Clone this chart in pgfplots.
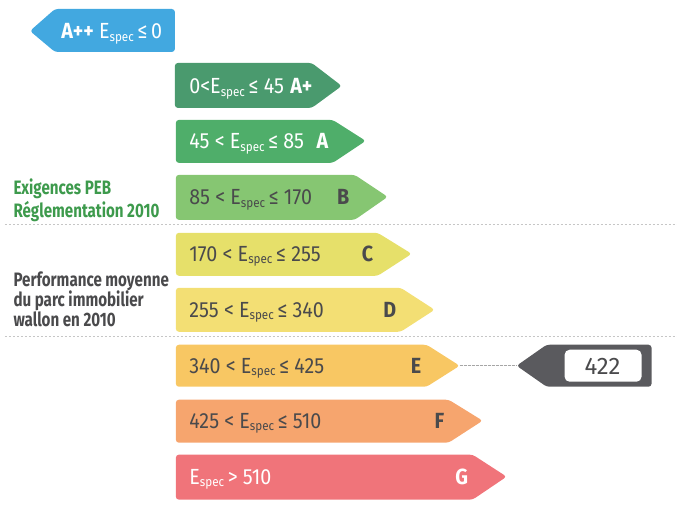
\documentclass[border=0pt]{standalone}
\usepackage{fontspec}
\setmainfont{Fira Sans}[FakeStretch=0.78]
\newfontfamily\barfont{Fira Sans}[FakeStretch=0.9]
\newfontfamily\numfont{Fira Sans}
\usepackage{pgfplots}
\pgfplotsset{compat=1.18}
\definecolor{cApp}{HTML}{42A8E0}
\definecolor{cAp}{HTML}{4A9A6E}
\definecolor{cA}{HTML}{4FAE6A}
\definecolor{cB}{HTML}{86C672}
\definecolor{cC}{HTML}{E6E06A}
\definecolor{cD}{HTML}{F3DF74}
\definecolor{cE}{HTML}{F8C763}
\definecolor{cF}{HTML}{F6A56E}
\definecolor{cG}{HTML}{F0747A}
\definecolor{cMark}{HTML}{5A5A5E}
\definecolor{txt}{HTML}{4A4A4C}
\definecolor{grn}{HTML}{3D9A4C}
\newcommand\Es{E\raisebox{-0.1em}{\fontsize{13}{13}\selectfont spec}}
\tikzset{bt/.style={anchor=base west,font=\barfont\fontsize{22}{22}\selectfont},
  bl/.style={anchor=base east,font=\barfont\bfseries\fontsize{22}{22}\selectfont},
  lt/.style={anchor=base west,font=\bfseries\fontsize{19.5}{19.5}\selectfont}}
\begin{document}
\begin{tikzpicture}
\begin{axis}[width=677bp,height=505bp,scale only axis,
  xmin=0,xmax=677,ymin=0,ymax=505,y dir=reverse,
  axis lines=none,clip=false,no markers,
  every node/.style={inner sep=0pt,outer sep=0pt}]
\addplot[draw=none] coordinates {(0,0) (677,505)};
% separators
\addplot[gray!45,line width=1bp,dash pattern=on 2bp off 2bp] coordinates {(5,225) (677,225)};
\addplot[gray!45,line width=1bp,dash pattern=on 2bp off 2bp] coordinates {(5,337) (677,337)};
% arrows
\addplot[fill=cApp,draw=none,rounded corners=3bp] coordinates {(55,9) (175,9) (175,52) (55,52) (30,31)} -- cycle;
\addplot[fill=cAp,draw=none,rounded corners=3bp] coordinates {(175,63) (312,63) (342,86) (312,108) (175,108)} -- cycle;
\addplot[fill=cA,draw=none,rounded corners=3bp] coordinates {(176,120) (333,120) (366,141) (333,163) (176,163)} -- cycle;
\addplot[fill=cB,draw=none,rounded corners=3bp] coordinates {(176,175) (355,175) (388,197) (355,220) (176,220)} -- cycle;
\addplot[fill=cC,draw=none,rounded corners=3bp] coordinates {(176,233) (378,233) (412,254) (378,276) (176,276)} -- cycle;
\addplot[fill=cD,draw=none,rounded corners=3bp] coordinates {(176,288) (401,288) (435,310) (401,332) (176,332)} -- cycle;
\addplot[fill=cE,draw=none,rounded corners=3bp] coordinates {(176,345) (427,345) (460,366) (427,387) (176,387)} -- cycle;
\addplot[fill=cF,draw=none,rounded corners=3bp] coordinates {(176,400) (449,400) (483,421) (449,443) (176,443)} -- cycle;
\addplot[fill=cG,draw=none,rounded corners=3bp] coordinates {(176,455) (473,455) (507,477) (473,500) (176,500)} -- cycle;
% marker
\addplot[gray!70,line width=0.8bp,dash pattern=on 3bp off 1bp] coordinates {(460,366) (517,366)};
\addplot[fill=cMark,draw=none,rounded corners=3bp] coordinates {(517,366) (547,345) (652,345) (652,387) (547,387)} -- cycle;
\addplot[fill=white,draw=none,rounded corners=5bp] coordinates {(565,350) (642,350) (642,382) (565,382)} -- cycle;
\node[anchor=base,text=txt,font=\numfont\fontsize{24}{24}\selectfont] at (axis cs:603,375) {422};
% bar texts
\node[bt,text=white,font=\barfont\fontsize{22}{22}\selectfont] at (axis cs:58,39) {\textbf{A++} \Es\,≤\,0};
\node[bt,text=white] at (axis cs:186,94) {0<\Es\,≤ 45};
\node[bl,text=white] at (axis cs:316,94) {A+};
\node[bt,text=white] at (axis cs:186,149) {45 < \Es\,≤ 85};
\node[bl,text=white] at (axis cs:332,149) {A};
\node[bt,text=txt] at (axis cs:186,205) {85 < \Es\,≤ 170};
\node[bl,text=txt] at (axis cs:353,205) {B};
\node[bt,text=txt] at (axis cs:186,262) {170 < \Es\,≤ 255};
\node[bl,text=txt] at (axis cs:377,262) {C};
\node[bt,text=txt] at (axis cs:186,318) {255 < \Es\,≤ 340};
\node[bl,text=txt] at (axis cs:400,318) {D};
\node[bt,text=txt] at (axis cs:186,374) {340 < \Es\,≤ 425};
\node[bl,text=txt] at (axis cs:425,374) {E};
\node[bt,text=txt] at (axis cs:186,429) {425 < \Es\,≤ 510};
\node[bl,text=txt] at (axis cs:448,429) {F};
\node[bt,text=white] at (axis cs:186,485) {\Es\,> 510};
\node[bl,text=white] at (axis cs:472,485) {G};
% left texts
\node[lt,text=grn] at (axis cs:10,195) {Exigences PEB};
\node[lt,text=grn] at (axis cs:10,218) {Réglementation 2010};
\node[lt,text=txt] at (axis cs:10,287) {Performance moyenne};
\node[lt,text=txt] at (axis cs:10,307) {du parc immobilier};
\node[lt,text=txt] at (axis cs:10,327) {wallon en 2010};
\end{axis}
\end{tikzpicture}
\end{document}
